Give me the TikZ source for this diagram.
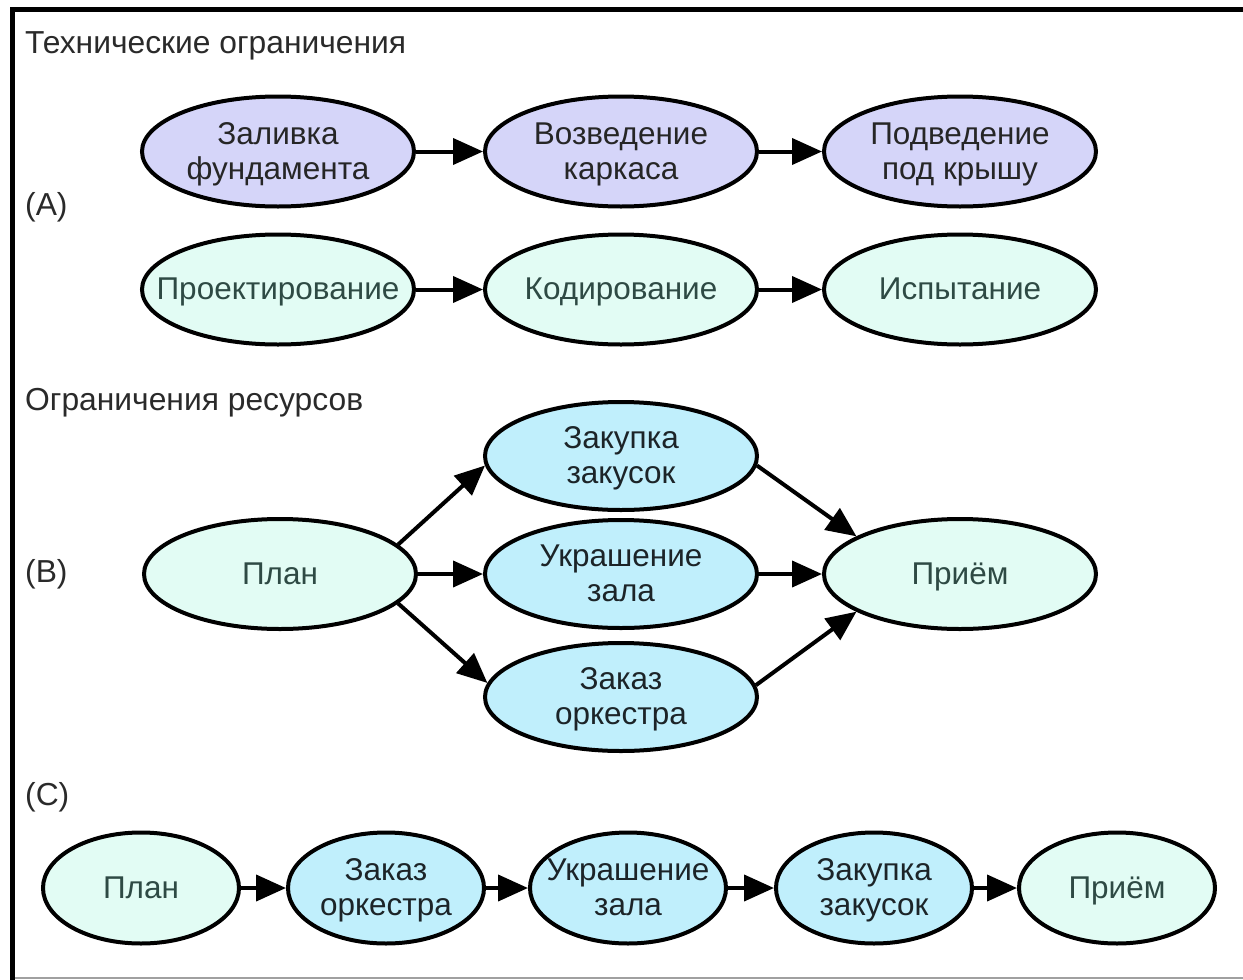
\documentclass[tikz,border=0pt]{standalone}
\usepackage{fontspec}
\setmainfont{Liberation Sans}
\usetikzlibrary{shapes.geometric,arrows.meta}
\definecolor{lav}{HTML}{D5D5F9}
\definecolor{mint}{HTML}{E2FCF4}
\definecolor{sky}{HTML}{C0EFFC}
\definecolor{minttext}{HTML}{2E4A44}
\definecolor{skytext}{HTML}{1C2428}
\definecolor{lavtext}{HTML}{262626}
\definecolor{titletext}{HTML}{2A2A2A}
\definecolor{framegray}{HTML}{A0A0A0}
\newcommand{\nodetxt}[1]{\vbox{\kern6pt\hbox{\makebox[0pt][c]{\begin{tabular}{@{}c@{}}#1\end{tabular}}}}}
\begin{document}
\begin{tikzpicture}[x=1pt,y=-1pt,
  el/.style={ellipse, draw=black, line width=4pt, inner sep=0pt,
    font=\fontsize{31.5}{35}\selectfont},
  big/.style={el, minimum width=272pt, minimum height=110pt},
  small/.style={el, minimum width=196pt, minimum height=111pt},
  lavnode/.style={fill=lav, text=lavtext},
  mintnode/.style={fill=mint, text=minttext},
  skynode/.style={fill=sky, text=skytext},
  lbl/.style={anchor=base west, inner sep=0pt, text=titletext, font=\fontsize{31.8}{35}\selectfont},
  arr/.style={line width=4pt, -{Triangle[length=30pt,width=26pt]}}]
\useasboundingbox (0,0) rectangle (1243,980);
% frame
\draw[framegray, line width=2pt] (13,978) -- (1243,978);
\draw[black, line width=5pt] (12,980) -- (12,9.5) -- (1243,9.5);

% labels
\node[lbl] (t1) at (25,53) {Технические ограничения};
\node[lbl] (la) at (25,215) {(A)};
\node[lbl] (t2) at (25,410) {Ограничения ресурсов};
\node[lbl] (lb) at (25,582) {(B)};
\node[lbl] (lc) at (25,805) {(C)};

% row A1
\node[big, lavnode] (a1) at (278,151.5) {\nodetxt{Заливка\\фундамента}};
\node[big, lavnode] (a2) at (621,151.5) {\nodetxt{Возведение\\каркаса}};
\node[big, lavnode] (a3) at (960,151.5) {\nodetxt{Подведение\\под крышу}};
\draw[arr] (a1.east) -- (a2.west);
\draw[arr] (a2.east) -- (a3.west);

% row A2
\node[big, mintnode] (p1) at (278,289.5) {\nodetxt{Проектирование}};
\node[big, mintnode] (p2) at (621,289.5) {\nodetxt{Кодирование}};
\node[big, mintnode] (p3) at (960,289.5) {\nodetxt{Испытание}};
\draw[arr] (p1.east) -- (p2.west);
\draw[arr] (p2.east) -- (p3.west);

% row B
\node[big, mintnode] (bplan) at (280,574) {\nodetxt{План}};
\node[big, skynode, minimum height=108pt] (bzak) at (621,456) {\nodetxt{Закупка\\закусок}};
\node[big, skynode, minimum height=108pt] (bukr) at (621,574) {\nodetxt{Украшение\\зала}};
\node[big, skynode, minimum height=108pt] (bork) at (621,697) {\nodetxt{Заказ\\оркестра}};
\node[big, mintnode] (bpri) at (960,574) {\nodetxt{Приём}};
\draw[arr] (bplan.14) -- (bzak.184);
\draw[arr] (bplan.east) -- (bukr.west);
\draw[arr] (bplan.346) -- (bork.174);
\draw[arr] (bzak.356) -- (bpri.160);
\draw[arr] (bukr.east) -- (bpri.west);
\draw[arr] (bork.5) -- (bpri.200);

% row C
\node[small, mintnode] (c1) at (141,888) {\nodetxt{План}};
\node[small, skynode] (c2) at (386,888) {\nodetxt{Заказ\\оркестра}};
\node[small, skynode] (c3) at (628,888) {\nodetxt{Украшение\\зала}};
\node[small, skynode] (c4) at (874,888) {\nodetxt{Закупка\\закусок}};
\node[small, mintnode] (c5) at (1117,888) {\nodetxt{Приём}};
\draw[arr] (c1.east) -- (c2.west);
\draw[arr] (c2.east) -- (c3.west);
\draw[arr] (c3.east) -- (c4.west);
\draw[arr] (c4.east) -- (c5.west);
\end{tikzpicture}
\end{document}
